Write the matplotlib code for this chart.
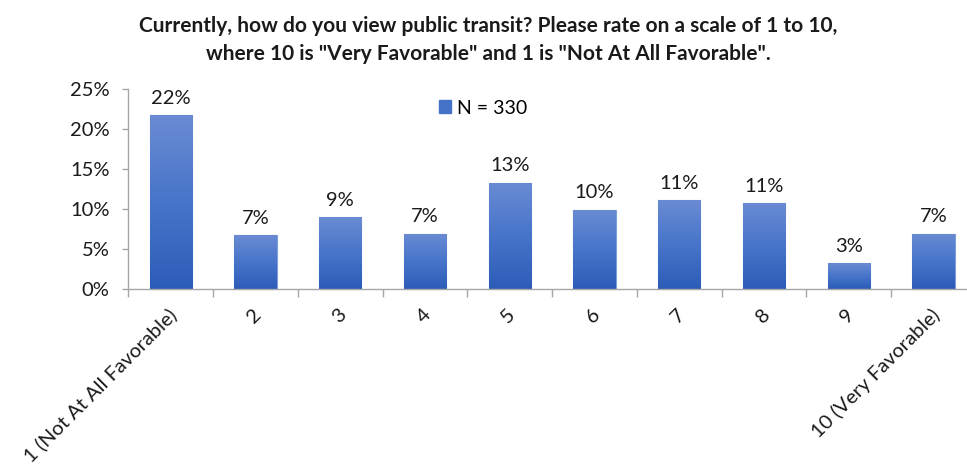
import numpy as np
import matplotlib
matplotlib.use("Agg")
import matplotlib.pyplot as plt
import matplotlib.transforms as mtransforms
from matplotlib.colors import LinearSegmentedColormap
from matplotlib.patches import Patch

categories = ["1 (Not At All Favorable)", "2", "3", "4", "5", "6", "7", "8", "9", "10 (Very Favorable)"]
values = [21.7, 6.7, 9.0, 6.9, 13.3, 9.9, 11.1, 10.7, 3.2, 6.9]
labels = ["22%", "7%", "9%", "7%", "13%", "10%", "11%", "11%", "3%", "7%"]
yticks = [0, 5, 10, 15, 20, 25]

plt.rcParams["font.family"] = ["Lato", "DejaVu Sans"]

fig = plt.figure(figsize=(9.67, 4.70), dpi=100)
# the original chart is cropped on the right, so the axes run past the edge
ax = fig.add_axes([0.1328, 0.3851, 0.8763, 0.4255])

x = np.arange(len(categories))
bars = ax.bar(x, values, width=0.5, color="#4472C4", edgecolor="#7f9fdc", linewidth=0.8, zorder=2)

# vertical gradient fill, lighter at top
cmap = LinearSegmentedColormap.from_list("grad", ["#2d5cb8", "#4775ca", "#6a8bd3"])
grad = np.linspace(0, 1, 256).reshape(-1, 1)
for b in bars:
    x0, w, h = b.get_x(), b.get_width(), b.get_height()
    im = ax.imshow(grad, cmap=cmap, aspect="auto", origin="lower",
                   extent=[x0, x0 + w, 0, h], zorder=2.5)
    im.set_clip_path(b)

for xi, v, lab in zip(x, values, labels):
    ax.annotate(lab, (xi, v), xytext=(0, 6), textcoords="offset points",
                ha="center", va="bottom", fontsize=14.5, color="#1a1a1a")

ax.set_xlim(-0.5, len(categories) - 0.5)
ax.set_ylim(0, 25)
ax.set_yticks(yticks)
ax.set_yticklabels([f"{t}%" for t in yticks], fontsize=14.5, color="#1a1a1a")

ax.set_xticks(x)
ax.set_xticklabels(categories, rotation=45, ha="right", va="top",
                   rotation_mode="anchor", fontsize=14.5, color="#1a1a1a")
ax.tick_params(axis="x", length=0, pad=10)
# nudge the slanted labels a little left/down, like the original
shift = mtransforms.ScaledTranslation(-3 / 100, -3 / 100, fig.dpi_scale_trans)
for t in ax.get_xticklabels():
    t.set_transform(t.get_transform() + shift)
ax.set_xticks(np.arange(len(categories) + 1) - 0.5, minor=True)
ax.tick_params(axis="x", which="minor", length=5.5, color="#a6a6a6", width=1)
ax.tick_params(axis="y", length=4.5, color="#a6a6a6", width=1, pad=9)

for side in ["top", "right"]:
    ax.spines[side].set_visible(False)
for side in ["left", "bottom"]:
    ax.spines[side].set_color("#a6a6a6")
    ax.spines[side].set_linewidth(1)

handle = Patch(facecolor="#4472C4", edgecolor="#4472C4")
ax.legend([handle], ["N = 330"], loc="center left", bbox_to_anchor=(0.3665, 0.905),
          frameon=False, fontsize=14, handlelength=0.6, handleheight=0.65,
          handletextpad=0.35, borderaxespad=0, borderpad=0)

fig.text(0.505, 0.945, "Currently, how do you view public transit? Please rate on a scale of 1 to 10,",
         ha="center", va="center", fontsize=15, fontweight="bold", color="#1a1a1a")
fig.text(0.505, 0.885, "where 10 is \"Very Favorable\" and 1 is \"Not At All Favorable\".",
         ha="center", va="center", fontsize=15, fontweight="bold", color="#1a1a1a")

fig.savefig("out.png", dpi=100)
